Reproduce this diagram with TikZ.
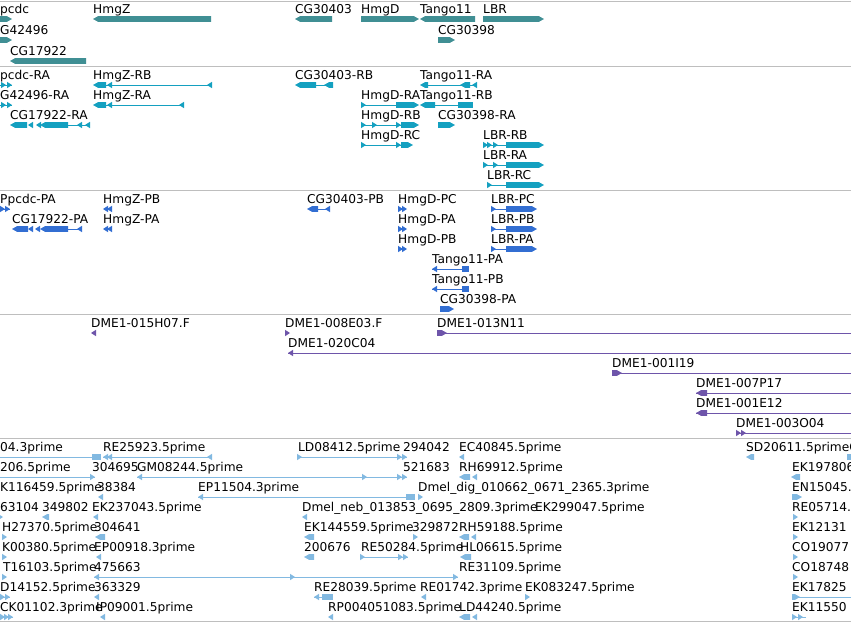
\documentclass[tikz,border=0pt]{standalone}
\usepackage{fontspec}
\setmainfont{DejaVu Sans}
\definecolor{cgene}{RGB}{64,143,148}
\definecolor{ctx}{RGB}{20,160,192}
\definecolor{cprot}{RGB}{50,110,210}
\definecolor{cclone}{RGB}{110,85,170}
\definecolor{cest}{RGB}{130,185,225}
\definecolor{csep}{RGB}{190,190,190}
\tikzset{lbl/.style={anchor=base west,inner sep=0pt,text=black,font=\fontsize{12.2}{14}\selectfont}}
\newcommand\lbl[3]{\node[lbl] at (#1,#2-6) {#3};}
\newcommand\exR[3]{\fill (#1,#3-2.8) -- (#2-5,#3-2.8) -- (#2,#3) -- (#2-5,#3+2.8) -- (#1,#3+2.8) -- cycle;}
\newcommand\exL[3]{\fill (#2,#3-2.8) -- (#1+5,#3-2.8) -- (#1,#3) -- (#1+5,#3+2.8) -- (#2,#3+2.8) -- cycle;}
\newcommand\exB[3]{\fill (#1,#3-2.8) rectangle (#2,#3+2.8);}
\newcommand\mkR[2]{\fill (#1,#2) -- (#1-5,#2-3.2) -- (#1-5,#2+3.2) -- cycle;}
\newcommand\mkL[2]{\fill (#1,#2) -- (#1+5,#2-3.2) -- (#1+5,#2+3.2) -- cycle;}
\newcommand\intr[3]{\draw[line width=1pt] (#1,#3) -- (#2,#3);}
\begin{document}
\begin{tikzpicture}[x=1pt,y=-1pt]
\useasboundingbox (0,0) rectangle (851,622);
\clip (0,0) rectangle (851,622);
\fill[white] (0,0) rectangle (851,622);
% separators
\foreach \yy in {1,66,190,314,438,621} \draw[csep,line width=1pt] (0,\yy) -- (851,\yy);
% ---------- genes
\begin{scope}[color=cgene]
\lbl{0}{19}{pcdc} \exR{0}{12}{19}
\lbl{0}{40}{G42496} \exR{0}{12}{40}
\lbl{10}{61}{CG17922} \exL{10}{86}{61}
\lbl{93}{19}{HmgZ} \exL{93}{211}{19}
\lbl{295}{19}{CG30403} \exL{295}{332}{19}
\lbl{361}{19}{HmgD} \exR{361}{419}{19}
\lbl{420}{19}{Tango11} \exL{420}{475}{19}
\lbl{483}{19}{LBR} \exR{483}{544}{19}
\lbl{438}{40}{CG30398} \exR{438}{455}{40}
\end{scope}
% ---------- transcripts
\begin{scope}[color=ctx]
\lbl{0}{85}{pcdc-RA} \intr{0}{12}{85} \mkR{6}{85} \mkR{12}{85}
\lbl{0}{105}{G42496-RA} \intr{0}{12}{105} \mkR{6}{105} \mkR{12}{105}
\lbl{10}{125}{CG17922-RA} \exL{10}{27}{125} \mkL{28}{125} \mkL{36}{125} \exL{40}{68}{125} \intr{68}{90}{125} \mkL{77}{125} \mkL{85}{125}
\lbl{93}{85}{HmgZ-RB} \exL{93}{106}{85} \intr{106}{212}{85} \mkL{107}{85} \mkL{207}{85}
\lbl{93}{105}{HmgZ-RA} \exL{93}{106}{105} \intr{106}{184}{105} \mkL{107}{105} \mkL{179}{105}
\lbl{295}{85}{CG30403-RB} \exL{295}{316}{85} \intr{316}{330}{85} \exL{324}{333}{85}
\lbl{420}{85}{Tango11-RA} \exL{420}{428}{85} \intr{428}{477}{85} \exL{460}{470}{85} \mkL{472}{85}
\lbl{361}{105}{HmgD-RA} \intr{361}{401}{105} \mkR{366}{105} \exR{396}{419}{105}
\lbl{420}{105}{Tango11-RB} \exL{420}{435}{105} \intr{435}{458}{105} \exB{458}{473}{105}
\lbl{361}{125}{HmgD-RB} \intr{361}{401}{125} \mkR{366}{125} \mkR{377}{125} \mkR{401}{125} \exR{401}{419}{125}
\lbl{438}{125}{CG30398-RA} \exR{438}{455}{125}
\lbl{361}{145}{HmgD-RC} \intr{361}{401}{145} \mkR{366}{145} \mkR{401}{145} \exR{401}{413}{145}
\lbl{483}{145}{LBR-RB} \intr{483}{506}{145} \mkR{488}{145} \mkR{492}{145} \mkR{498}{145} \exR{506}{544}{145}
\lbl{483}{165}{LBR-RA} \intr{483}{506}{165} \mkR{488}{165} \mkR{498}{165} \exR{506}{544}{165}
\lbl{487}{185}{LBR-RC} \intr{487}{506}{185} \mkR{492}{185} \exR{506}{544}{185}
\end{scope}
% ---------- proteins
\begin{scope}[color=cprot]
\lbl{0}{209}{Ppcdc-PA} \intr{0}{10}{209} \mkR{5}{209} \mkR{10}{209}
\lbl{12}{229}{CG17922-PA} \exL{12}{28}{229} \mkL{28}{229} \mkL{35}{229} \exL{40}{68}{229} \intr{68}{82}{229} \mkL{77}{229}
\lbl{103}{209}{HmgZ-PB} \mkL{103}{209} \mkL{107}{209}
\lbl{103}{229}{HmgZ-PA} \mkL{103}{229} \mkL{107}{229}
\lbl{307}{209}{CG30403-PB} \exL{307}{318}{209} \intr{318}{330}{209} \mkL{325}{209}
\lbl{398}{209}{HmgD-PC} \mkR{403}{209} \mkR{407}{209}
\lbl{398}{229}{HmgD-PA} \mkR{403}{229} \mkR{407}{229}
\lbl{398}{249}{HmgD-PB} \mkR{403}{249} \mkR{407}{249}
\lbl{491}{209}{LBR-PC} \intr{491}{506}{209} \mkR{496}{209} \exR{506}{537}{209}
\lbl{491}{229}{LBR-PB} \intr{491}{506}{229} \mkR{496}{229} \exR{506}{537}{229}
\lbl{491}{249}{LBR-PA} \intr{491}{506}{249} \mkR{496}{249} \exR{506}{537}{249}
\lbl{432}{269}{Tango11-PA} \mkL{432}{269} \intr{432}{469}{269} \exB{462}{469}{269}
\lbl{432}{289}{Tango11-PB} \mkL{432}{289} \intr{432}{469}{289} \exB{462}{469}{289}
\lbl{440}{309}{CG30398-PA} \exR{440}{454}{309}
\end{scope}
% ---------- clones
\begin{scope}[color=cclone]
\lbl{91}{333}{DME1-015H07.F} \mkL{91}{333}
\lbl{285}{333}{DME1-008E03.F} \mkR{290}{333}
\lbl{437}{333}{DME1-013N11} \intr{437}{851}{333} \exR{437}{447}{333}
\lbl{288}{353}{DME1-020C04} \intr{288}{851}{353} \mkL{288}{353}
\lbl{612}{373}{DME1-001I19} \intr{612}{851}{373} \exR{612}{622}{373}
\lbl{696}{393}{DME1-007P17} \intr{696}{851}{393} \exL{696}{707}{393}
\lbl{696}{413}{DME1-001E12} \intr{696}{851}{413} \exL{696}{707}{413}
\lbl{736}{433}{DME1-003O04} \intr{736}{851}{433} \mkR{741}{433} \mkR{746}{433}
\end{scope}
% ---------- ESTs
\begin{scope}[color=cest]
% row 1
\lbl{0}{457}{04.3prime} \intr{0}{92}{457} \exB{92}{101}{457}
\lbl{103}{457}{RE25923.5prime} \intr{103}{212}{457} \mkL{103}{457} \mkL{107}{457} \mkL{207}{457}
\lbl{298}{457}{LD08412.5prime} \intr{298}{407}{457} \mkR{302}{457} \mkR{402}{457} \mkR{407}{457}
\lbl{403}{457}{294042}
\lbl{459}{457}{EC40845.5prime} \mkL{459}{457}
\lbl{746}{457}{SD20611.5primeC} \exL{746}{754}{457} \exB{847}{851}{457}
% row 2
\lbl{0}{477}{206.5prime} \intr{0}{95}{477} \mkR{95}{477}
\lbl{92}{477}{304695}
\lbl{137}{477}{GM08244.5prime} \intr{137}{407}{477} \mkL{137}{477} \mkR{367}{477} \mkR{402}{477} \mkR{407}{477}
\lbl{403}{477}{521683}
\lbl{459}{477}{RH69912.5prime} \exL{459}{470}{477} \mkL{472}{477}
\lbl{792}{477}{EK197806} \exL{791}{800}{477}
% row 3
\lbl{0}{497}{K116459.5prime}
\lbl{97}{497}{38384} \mkL{98}{497}
\lbl{198}{497}{EP11504.3prime} \intr{198}{415}{497} \mkL{198}{497} \exB{406}{415}{497}
\lbl{418}{497}{Dmel\_dig\_010662\_0671\_2365.3prime} \mkR{423}{497}
\lbl{792}{497}{EN15045.} \exR{792}{802}{497}
% row 4
\lbl{0}{517}{63104} \mkR{3}{517}
\lbl{42}{517}{349802} \exL{42}{49}{517}
\lbl{92}{517}{EK237043.5prime} \mkL{93}{517}
\lbl{302}{517}{Dmel\_neb\_013853\_0695\_2809.3prime} \mkL{302}{517}
\lbl{535}{517}{EK299047.5prime}
\lbl{792}{517}{RE05714.} \mkR{798}{517}
% row 5
\lbl{2}{537}{H27370.5prime} \mkR{7}{537}
\lbl{94}{537}{304641} \exL{95}{105}{537}
\lbl{304}{537}{EK144559.5prime} \exL{304}{314}{537}
\lbl{412}{537}{329872} \mkR{418}{537}
\lbl{459}{537}{RH59188.5prime} \exL{459}{469}{537} \mkL{471}{537}
\lbl{792}{537}{EK12131} \mkR{798}{537}
% row 6
\lbl{2}{557}{K00380.5prime} \mkR{7}{557}
\lbl{94}{557}{EP00918.3prime} \mkL{96}{557}
\lbl{304}{557}{200676} \exL{304}{314}{557}
\lbl{361}{557}{RE50284.5prime} \intr{361}{408}{557} \mkR{365}{557} \mkR{403}{557} \mkR{408}{557}
\lbl{460}{557}{HL06615.5prime} \exL{460}{471}{557}
\lbl{792}{557}{CO19077} \mkR{798}{557}
% row 7
\lbl{3}{577}{T16103.5prime} \mkR{7}{577}
\lbl{94}{577}{475663} \intr{94}{458}{577} \mkL{94}{577} \mkR{295}{577} \mkR{458}{577}
\lbl{459}{577}{RE31109.5prime}
\lbl{792}{577}{CO18748} \mkR{798}{577}
% row 8
\lbl{0}{597}{D14152.5prime} \intr{0}{10}{597} \mkR{5}{597} \mkR{10}{597}
\lbl{94}{597}{363329} \mkL{94}{597}
\lbl{314}{597}{RE28039.5prime} \intr{314}{325}{597} \mkL{314}{597} \exB{322}{333}{597}
\lbl{420}{597}{RE01742.3prime} \mkL{421}{597}
\lbl{525}{597}{EK083247.5prime} \mkR{530}{597}
\lbl{792}{597}{EK17825} \intr{792}{851}{597} \exR{792}{800}{597}
% row 9
\lbl{0}{617}{CK01102.3prime} \intr{0}{13}{617} \mkR{5}{617} \mkR{9}{617} \mkR{13}{617}
\lbl{96}{617}{IP09001.5prime} \mkL{100}{617}
\lbl{328}{617}{RP004051083.5prime} \mkL{328}{617}
\lbl{459}{617}{LD44240.5prime} \exL{459}{470}{617} \mkL{472}{617}
\lbl{792}{617}{EK11550} \intr{792}{806}{617} \mkR{797}{617} \mkR{803}{617}
\end{scope}
\end{tikzpicture}
\end{document}
